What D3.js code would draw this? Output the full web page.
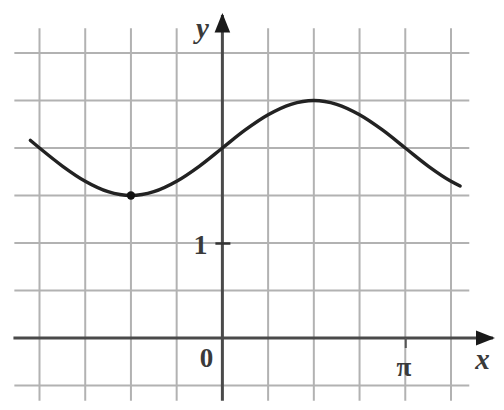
<!DOCTYPE html>
<html>
<head>
<meta charset="utf-8">
<script src="https://cdn.jsdelivr.net/npm/d3@7"></script>
<style>
  html, body { margin: 0; padding: 0; background: #fff; }
  svg { display: block; }
  text { font-family: "Liberation Serif", "DejaVu Serif", serif; fill: #3a3a3a; }
</style>
</head>
<body>
<svg id="chart" width="504" height="410"></svg>
<script>
// Grid columns (in units of π/4) and grid rows (in y units)
const gridX = [-4, -3, -2, -1, 1, 2, 3, 4, 5];
const gridY = [-0.5, 0.5, 1, 1.5, 2, 2.5, 3];

// Curve points: x in units of π/4, y value
const curveX = [-4.2, -4, -3.5, -3, -2.5, -2, -1.5, -1, -0.5, 0, 0.5, 1, 1.5, 2, 2.5, 3, 3.5, 4, 4.5, 5, 5.2];
const curveY = [2.08, 2.0, 1.81, 1.65, 1.54, 1.5, 1.54, 1.65, 1.81, 2.0, 2.19, 2.35, 2.46, 2.5, 2.46, 2.35, 2.19, 2.0, 1.81, 1.65, 1.6];

// Marked point (minimum)
const pointX = [-2];
const pointY = [1.5];

// Tick labels
const yTickValues = [1];
const yTickLabels = ["1"];
const xTickValues = [4];
const xTickLabels = ["π"];

const svg = d3.select("#chart");

const x = d3.scaleLinear().domain([-4, 5]).range([39.5, 451]);
const y = d3.scaleLinear().domain([-0.5, 3]).range([385.5, 53]);

// grid
const grid = svg.append("g").attr("stroke", "#a0a0a0").attr("stroke-width", 2).attr("opacity", 0.8);
grid.selectAll("line.v").data(gridX).join("line")
  .attr("class", "v")
  .attr("x1", d => x(d)).attr("x2", d => x(d))
  .attr("y1", y(3.26)).attr("y2", y(-0.66));
grid.selectAll("line.h").data(gridY).join("line")
  .attr("class", "h")
  .attr("x1", x(-4.55)).attr("x2", x(5.4))
  .attr("y1", d => y(d)).attr("y2", d => y(d));

// axes lines with arrows
const defs = svg.append("defs");
defs.append("marker").attr("id", "arr").attr("viewBox", "0 0 10 10")
  .attr("refX", 9).attr("refY", 5).attr("markerWidth", 6.5).attr("markerHeight", 6.5)
  .attr("markerUnits", "strokeWidth").attr("orient", "auto")
  .append("path").attr("d", "M0,1 L10,5 L0,9 Z").attr("fill", "#1a1a1a");

svg.append("line")
  .attr("x1", x(-4.57)).attr("x2", x(5.92))
  .attr("y1", y(0)).attr("y2", y(0))
  .attr("stroke", "#4a4a4a").attr("stroke-width", 3)
  .attr("marker-end", "url(#arr)");
svg.append("line")
  .attr("x1", x(0)).attr("x2", x(0))
  .attr("y1", y(-0.66)).attr("y2", y(3.4))
  .attr("stroke", "#4a4a4a").attr("stroke-width", 3)
  .attr("marker-end", "url(#arr)");

// y axis tick "1"
const yAxis = d3.axisLeft(y).tickValues(yTickValues)
  .tickFormat((d, i) => yTickLabels[i]).tickSize(6).tickPadding(9);
const gy = svg.append("g").attr("transform", `translate(${x(0)},0)`).call(yAxis);
gy.select(".domain").remove();
gy.selectAll(".tick line").attr("x1", -7).attr("x2", 8).attr("stroke", "#333").attr("stroke-width", 2.5);
gy.selectAll(".tick text").attr("font-size", 28).attr("font-weight", "bold")
  .attr("font-family", "Liberation Serif, serif").attr("fill", "#3a3a3a").attr("dy", "0.38em");

// x axis tick "π"
const xAxis = d3.axisBottom(x).tickValues(xTickValues)
  .tickFormat((d, i) => xTickLabels[i]).tickSize(10).tickPadding(9);
const gx = svg.append("g").attr("transform", `translate(0,${y(0)})`).call(xAxis);
gx.select(".domain").remove();
gx.selectAll(".tick line").attr("stroke", "#555").attr("stroke-width", 2);
gx.selectAll(".tick text").attr("font-size", 27).attr("font-weight", "bold")
  .attr("font-family", "Liberation Serif, serif").attr("fill", "#3a3a3a").attr("x", -2);

// origin label
svg.append("text").attr("x", x(0) - 16).attr("y", y(0) + 29)
  .attr("text-anchor", "middle").attr("font-size", 27).attr("font-weight", "bold").text("0");

// axis names
svg.append("text").attr("x", x(0) - 20).attr("y", y(3.16))
  .attr("text-anchor", "middle").attr("font-size", 29).attr("font-style", "italic").attr("font-weight", "bold").text("y");
svg.append("text").attr("x", x(5.69)).attr("y", y(-0.33))
  .attr("text-anchor", "middle").attr("font-size", 29).attr("font-style", "italic").attr("font-weight", "bold").text("x");

// curve
const line = d3.line().x(d => x(d[0])).y(d => y(d[1])).curve(d3.curveMonotoneX);
svg.append("path").datum(d3.zip(curveX, curveY))
  .attr("d", line).attr("fill", "none").attr("stroke", "#222").attr("stroke-width", 3.4)
  .attr("stroke-linecap", "round");

// point
svg.selectAll("circle.pt").data(d3.zip(pointX, pointY)).join("circle")
  .attr("class", "pt").attr("cx", d => x(d[0])).attr("cy", d => y(d[1])).attr("r", 4.2).attr("fill", "#111");
</script>
</body>
</html>
